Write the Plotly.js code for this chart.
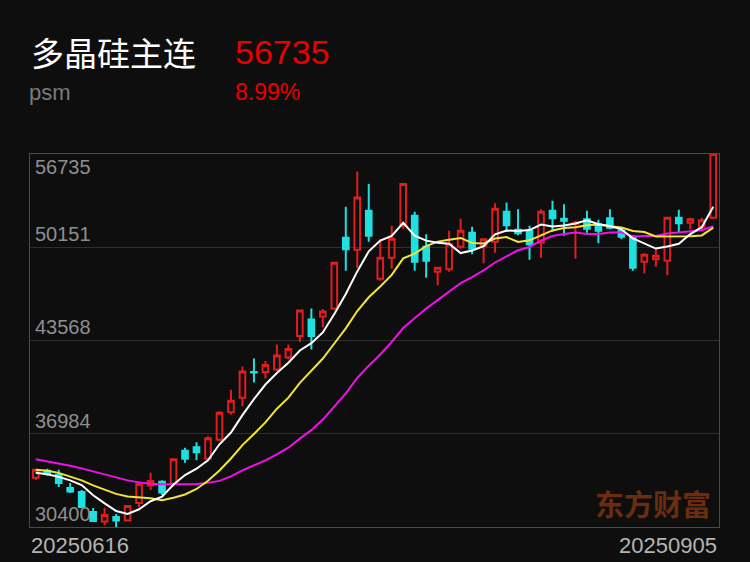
<!DOCTYPE html>
<html>
<head>
<meta charset="utf-8">
<script src="https://cdn.plot.ly/plotly-3.0.1.min.js"></script>
<style>
html,body{margin:0;padding:0;background:#0e0e0e;}
#chart{width:750px;height:562px;}
</style>
</head>
<body>
<div id="chart"></div>
<script>
// ---- data ----
const dates = [
  "20250616","20250617","20250618","20250619","20250620",
  "20250623","20250624","20250625","20250626","20250627","20250630",
  "20250701","20250702","20250703","20250704",
  "20250707","20250708","20250709","20250710","20250711",
  "20250714","20250715","20250716","20250717","20250718",
  "20250721","20250722","20250723","20250724","20250725",
  "20250728","20250729","20250730","20250731","20250801",
  "20250804","20250805","20250806","20250807","20250808",
  "20250811","20250812","20250813","20250814","20250815",
  "20250818","20250819","20250820","20250821","20250822",
  "20250825","20250826","20250827","20250828","20250829",
  "20250901","20250902","20250903","20250904","20250905"
];
const open = [33869,34364,34081,33161,32878,31462,30789,31108,30860,32099,
  33338,33586,33444,35780,36028,35214,36559,38506,39532,41338,
  41338,41515,42364,43886,45054,45267,45833,50824,49974,52735,
  47921,49408,51673,52381,50187,48417,48594,50187,51178,50257,
  50541,52664,51390,51319,50470,52735,52169,51815,52133,51779,
  52204,51319,50895,49125,49302,49196,52240,51886,51603,52240];
const high = [34506,34506,34435,33515,33019,31745,31745,31320,31957,33586,
  34223,33692,35249,35993,36382,36807,38577,40099,41727,42293,
  42116,43284,43284,45762,45833,45797,49125,53018,55496,54611,
  50718,51673,54682,52664,51072,48771,51319,52169,51603,50753,
  53266,53302,52841,51673,52841,53443,53195,52027,52735,52098,
  52841,51532,51001,49726,50010,52310,52806,52240,52240,56735];
const low = [33727,34010,33232,32807,31745,30754,30542,30400,30789,31816,
  33019,32665,33267,34931,35108,35108,36453,38329,38931,40594,
  40877,41408,42222,43461,42930,44488,45727,48488,48700,50541,
  47780,48629,51461,48488,47992,47461,48417,50045,49656,49019,
  49762,51249,51001,49266,49408,51249,50965,49337,51178,50434,
  51426,50718,48488,48311,48771,48169,51178,51426,51319,52240];
const close = [34435,34152,33515,32913,31816,30825,31250,30860,31887,33444,
  33656,32842,35179,35214,35674,36665,38470,39320,41373,41302,
  41833,42506,42966,45691,43886,45620,49054,50010,53656,50965,
  49408,50753,54611,49125,49196,48700,50364,51319,50045,50718,
  52877,51709,51142,50364,52664,52204,52027,51886,51461,51319,
  51532,50895,48700,49620,49550,52240,51850,52133,52055,56735];
const ma5 = [34223,34117,33940,33692,33366,32644,32064,31533,31327,31653,
  32219,32538,33402,34067,34513,35115,36240,37069,38300,39426,
  40460,41267,41996,42860,43376,44134,45444,46852,48445,49861,
  50618,50958,51879,50972,50618,50477,50399,49741,49925,50229,
  51064,51333,51298,51362,51751,51617,51680,51829,52049,51779,
  51645,51418,50781,50413,50059,50201,50392,51079,51567,53004];
const ma10 = [34435,34364,34223,33975,33692,33338,33019,32736,32559,32510,
  32432,32297,32467,32694,33083,33663,34386,35235,36184,36970,
  37784,38754,39532,40580,41401,42293,43355,44424,45649,46619,
  47376,48197,49365,49705,50236,50548,50675,50810,50449,50420,
  50767,50866,50519,50640,50987,51341,51503,51560,51702,51765,
  51631,51546,51305,51227,50916,50923,50902,50930,50987,51532];
const ma20 = [35179,35037,34909,34718,34541,34329,34081,33869,33692,33550,
  33458,33423,33409,33423,33444,33515,33657,33975,34400,34740,
  35108,35525,36000,36637,37239,37982,38874,39830,40920,41791,
  42583,43475,44445,45146,45819,46420,47015,47617,48049,48523,
  49075,49535,49939,50172,50611,50944,51093,51185,51079,51093,
  51199,51206,50909,50937,50951,51128,51206,51249,51348,51645];
const yTicks = [56735, 50151, 43568, 36984, 30400];
const titleName = "多晶硅主连";
const subName = "psm";
const lastPrice = "56735";
const changePct = "8.99%";
const watermark = "东方财富";

// ---- styles ----
const RED = "#e01e1e";
const CYAN = "#1fe0e0";
const BG = "#0e0e0e";
const numFont = "Liberation Sans, Arial, sans-serif";
const cjkFont = "Noto Sans CJK SC, sans-serif";

const traces = [
  {
    type: "candlestick",
    x: dates, open: open, high: high, low: low, close: close,
    increasing: {line: {color: RED, width: 2}, fillcolor: "rgba(0,0,0,0)"},
    decreasing: {line: {color: CYAN, width: 2}, fillcolor: CYAN},
    whiskerwidth: 0,
    hoverinfo: "skip",
    showlegend: false
  },
  {type: "scatter", mode: "lines", x: dates, y: ma20, line: {color: "#f010e8", width: 2}, showlegend: false, hoverinfo: "skip"},
  {type: "scatter", mode: "lines", x: dates, y: ma10, line: {color: "#f2e43a", width: 2}, showlegend: false, hoverinfo: "skip"},
  {type: "scatter", mode: "lines", x: dates, y: ma5, line: {color: "#ffffff", width: 2}, showlegend: false, hoverinfo: "skip"}
];

const annotations = [
  {text: titleName, xref: "paper", yref: "paper", x: -0.001, y: 1.2735, xanchor: "left", yanchor: "middle",
   showarrow: false, font: {family: cjkFont, size: 33, color: "#ffffff"}},
  {text: lastPrice, xref: "paper", yref: "paper", x: 0.295, y: 1.2735, xanchor: "left", yanchor: "middle",
   showarrow: false, font: {family: numFont, size: 34, color: "#e80000"}},
  {text: subName, xref: "paper", yref: "paper", x: -0.004, y: 1.166, xanchor: "left", yanchor: "middle",
   showarrow: false, font: {family: numFont, size: 22, color: "#7a7a7a"}},
  {text: changePct, xref: "paper", yref: "paper", x: 0.295, y: 1.166, xanchor: "left", yanchor: "middle",
   showarrow: false, font: {family: numFont, size: 23, color: "#e80000"}},
  {text: watermark, xref: "paper", yref: "paper", x: 0.817, y: 0.064, xanchor: "left", yanchor: "middle",
   showarrow: false, font: {family: cjkFont, size: 29, color: "#6b2c10", weight: 700}},
  {text: dates[0], xref: "paper", yref: "paper", x: -0.002, y: 0, xanchor: "left", yanchor: "top", yshift: -4,
   showarrow: false, font: {family: numFont, size: 22, color: "#b4b4b4"}},
  {text: dates[dates.length - 1], xref: "paper", yref: "paper", x: 1.0, y: 0, xanchor: "right", yanchor: "top", yshift: -4,
   showarrow: false, font: {family: numFont, size: 22, color: "#b4b4b4"}}
];
yTicks.forEach(function (v, i) {
  annotations.push({
    text: String(v), xref: "paper", yref: "y", x: 0.004, y: v,
    xanchor: "left", yanchor: i === 0 ? "top" : "bottom",
    showarrow: false, font: {family: numFont, size: 20, color: "#8e8e8e"}
  });
});

const layout = {
  width: 750, height: 562,
  margin: {l: 30, r: 31, t: 154, b: 35},
  paper_bgcolor: BG, plot_bgcolor: BG,
  showlegend: false,
  xaxis: {
    type: "category", range: [-0.5, dates.length - 0.5],
    rangeslider: {visible: false},
    showgrid: false, zeroline: false, showticklabels: false, ticks: "",
    showline: true, mirror: true, linecolor: "#4a4a4a", linewidth: 1
  },
  yaxis: {
    range: [yTicks[yTicks.length - 1], yTicks[0]],
    tickvals: yTicks, showticklabels: false, ticks: "",
    showgrid: true, gridcolor: "#2e2e2e", gridwidth: 1, zeroline: false,
    showline: true, mirror: true, linecolor: "#4a4a4a", linewidth: 1
  },
  annotations: annotations
};

Plotly.newPlot("chart", traces, layout, {staticPlot: true, displayModeBar: false});
</script>
</body>
</html>
